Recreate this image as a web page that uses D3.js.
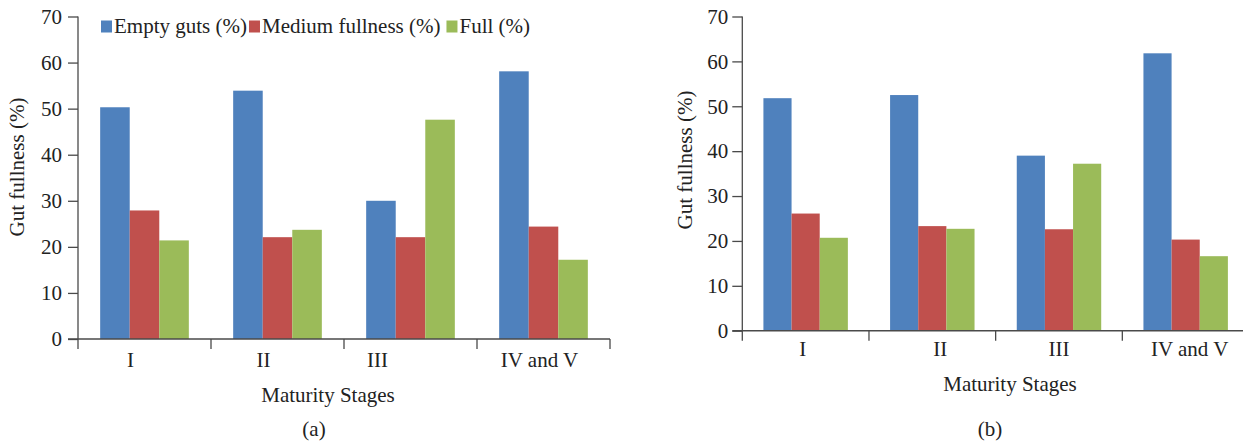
<!DOCTYPE html>
<html><head><meta charset="utf-8">
<script src="https://cdn.jsdelivr.net/npm/d3@7/dist/d3.min.js"></script>
<style>
html,body{margin:0;padding:0;background:#fff;}
svg text{font-family:"Liberation Serif","Tinos","Times New Roman","DejaVu Serif",serif;fill:#222;}
</style></head>
<body>
<svg id="c" width="1243" height="441"></svg>
<script>
// ---- data ----
const categories = ["I", "II", "III", "IV and V"];
const seriesNames = ["Empty guts (%)", "Medium fullness (%)", "Full (%)"];
const seriesColors = ["#4F81BD", "#C0504D", "#9BBB59"];
const yTicks = [0, 10, 20, 30, 40, 50, 60, 70];

const emptyA = [50.3, 53.9, 30.0, 58.1];
const mediumA = [27.9, 22.1, 22.1, 24.4];
const fullA = [21.4, 23.7, 47.6, 17.2];

const emptyB = [51.8, 52.5, 39.0, 61.8];
const mediumB = [26.1, 23.3, 22.6, 20.3];
const fullB = [20.7, 22.7, 37.2, 16.6];

const yTitle = "Gut fullness (%)";
const xTitle = "Maturity Stages";

// ---- drawing ----
const svg = d3.select("#c");
const axisColor = "#4a4a4a";
const FS = 21;
const FF = '"Liberation Serif","Tinos","Times New Roman","DejaVu Serif",serif';

function panel(opt) {
  const g = svg.append("g");
  const x = d3.scaleBand().domain(categories).range([opt.x0, opt.x1]).paddingInner(0).paddingOuter(0);
  const xs = d3.scaleBand().domain(seriesNames).range([0, x.bandwidth()]).paddingInner(0).paddingOuter(0.75);
  const y = d3.scaleLinear().domain([0, 70]).range([opt.yBot, opt.yTop]);
  const series = opt.series;

  // bars
  seriesNames.forEach((s, si) => {
    g.selectAll(null).data(categories).enter().append("rect")
      .attr("x", c => x(c) + xs(s))
      .attr("y", (c, i) => y(series[si][i]))
      .attr("width", xs.bandwidth())
      .attr("height", (c, i) => y(0) - y(series[si][i]))
      .attr("fill", seriesColors[si]);
  });

  // y axis
  const ya = d3.axisLeft(y).tickValues(yTicks).tickSize(10).tickPadding(opt.tickPad);
  const yg = g.append("g").attr("transform", `translate(${opt.x0},0)`).call(ya);
  yg.attr("font-family", FF);
  yg.select(".domain").attr("stroke", axisColor).attr("stroke-width", 1.3).attr("d", `M0,${opt.yTop}V${opt.yBot}`);
  yg.selectAll(".tick line").attr("stroke", axisColor).attr("stroke-width", 1.3);
  yg.selectAll(".tick text").attr("font-size", FS).attr("font-family", FF).attr("fill", "#222");

  // x axis line
  g.append("line").attr("x1", opt.x0 - 10).attr("x2", opt.x1).attr("y1", opt.yBot).attr("y2", opt.yBot)
    .attr("stroke", axisColor).attr("stroke-width", 1.5);
  // category boundary ticks
  const bounds = categories.map(c => x(c)).concat([opt.x1]);
  g.selectAll(null).data(bounds).enter().append("line")
    .attr("x1", d => d).attr("x2", d => d).attr("y1", opt.yBot).attr("y2", opt.yBot + 10)
    .attr("stroke", axisColor).attr("stroke-width", 1.3);
  // category labels
  g.selectAll(null).data(categories).enter().append("text")
    .attr("x", (c, i) => x(c) + x.bandwidth() / 2 + opt.labelDx[i])
    .attr("y", opt.yBot + opt.labelDy)
    .attr("text-anchor", "middle").attr("font-size", FS).text(c => c);

  // titles
  g.append("text").attr("transform", `translate(${opt.yTitleX},${opt.yTitleY}) rotate(-90)`)
    .attr("text-anchor", "middle").attr("font-size", FS).text(yTitle);
  g.append("text").attr("x", opt.xTitleX).attr("y", opt.xTitleY)
    .attr("text-anchor", "middle").attr("font-size", FS).text(xTitle);
  g.append("text").attr("x", opt.capX).attr("y", opt.capY)
    .attr("text-anchor", "middle").attr("font-size", FS).text(opt.caption);

  if (opt.legend) {
    let lx = opt.legendX;
    seriesNames.forEach((s, si) => {
      g.append("rect").attr("x", lx).attr("y", opt.legendY - 12).attr("width", 11).attr("height", 12)
        .attr("fill", seriesColors[si]);
      const t = g.append("text").attr("x", lx + 13).attr("y", opt.legendY).attr("font-size", FS).text(s);
      lx += 13 + t.node().getComputedTextLength() + (si === 0 ? 2 : 6);
    });
  }
}

panel({
  x0: 78, x1: 610, yTop: 16.5, yBot: 339,
  series: [emptyA, mediumA, fullA],
  tickPad: 6,
  labelDx: [-14, -14, -33, -4], labelDy: 28,
  yTitleX: 24, yTitleY: 167,
  xTitleX: 328, xTitleY: 402,
  capX: 314, capY: 436, caption: "(a)",
  legend: true, legendX: 101, legendY: 32.5
});

panel({
  x0: 742.3, x1: 1249, yTop: 16.5, yBot: 330.7,
  series: [emptyB, mediumB, fullB],
  tickPad: 4,
  labelDx: [-3, 8, 0, 4], labelDy: 25,
  yTitleX: 692, yTitleY: 160,
  xTitleX: 1010, xTitleY: 391,
  capX: 990, capY: 436, caption: "(b)",
  legend: false
});
</script>
</body></html>
